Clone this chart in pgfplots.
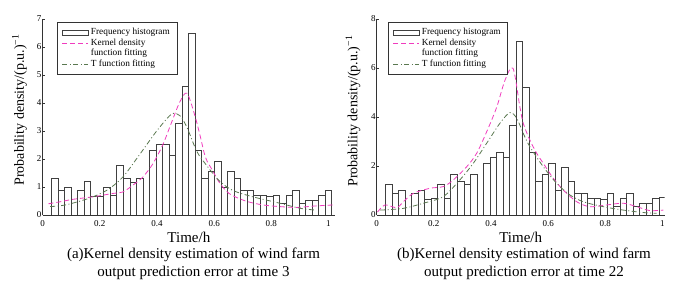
\documentclass[border=0pt]{standalone}
\usepackage{fontspec}
\setmainfont{Liberation Serif}
\usepackage{pgfplots}
\pgfplotsset{compat=1.18}
\definecolor{kdc}{RGB}{240,60,190}
\definecolor{tfc}{RGB}{90,120,80}
\pgfplotsset{
 mystyle/.style={
  scale only axis, height=196pt,
  axis x line*=bottom, axis y line*=left,
  axis line style={black!80, line width=0.6pt},
  xmin=0, ymin=0,
  xtick={0,0.2,0.4,0.6,0.8,1},
  xticklabels={0,0.2,0.4,0.6,0.8,1},
  tick style={black!80, line width=0.5pt},
  major tick length=2.5pt,
  tick align=inside,
  ticklabel style={font=\fontsize{9}{10}\selectfont},
  /pgf/number format/assume math mode=true,
  yticklabel style={inner sep=1pt},
  xticklabel style={yshift=-2pt},
  xlabel={Time/h},
  xlabel style={font=\fontsize{15}{18}\selectfont, at={(axis description cs:0.5,0)}, anchor=center, yshift=-22pt},
  ylabel={Probability density/(p.u.)\textsuperscript{−1}},
  ylabel style={font=\fontsize{14}{16}\selectfont, anchor=center},
  legend style={draw=black!80, line width=0.5pt, font=\fontsize{9.3}{10}\selectfont, anchor=north west, inner xsep=5pt, inner ysep=4.5pt, row sep=0pt, cells={anchor=west}, nodes={inner xsep=2pt, inner ysep=1pt, text height=6.5pt, text depth=2.2pt}},
 },
 hist/.style={ybar interval, draw=black!75, fill=white, line width=0.75pt},
 kd/.style={draw=kdc, line width=0.8pt, dash pattern=on 5pt off 3pt, smooth, tension=0.5, no marks},
 tf/.style={draw=tfc, line width=0.8pt, dash pattern=on 5pt off 2.5pt on 1pt off 2.5pt, smooth, tension=0.5, no marks},
 lhist/.style={legend image code/.code={\draw[draw=black!75, fill=white, line width=0.75pt] (0pt,-2.5pt) rectangle (26pt,2.5pt);}},
 lkd/.style={legend image code/.code={\draw[draw=kdc, line width=1pt, dash pattern=on 5pt off 3pt] (0pt,0pt) -- (26pt,0pt);}},
 ltf/.style={legend image code/.code={\draw[draw=tfc, line width=0.9pt, dash pattern=on 5pt off 2.5pt on 1pt off 2.5pt] (0pt,0pt) -- (26pt,0pt);}},
}
\begin{document}
\begin{tikzpicture}[x=1pt,y=1pt]
\useasboundingbox (0,0) rectangle (680,288);
\begin{axis}[mystyle, at={(42.7pt,73pt)}, anchor=south west, width=292.3pt, xmax=1.023, ymax=7,
  ytick={0,1,2,3,4,5,6,7}, yticklabels={0,1,2,3,4,5,6,7},
  ylabel style={at={(axis description cs:-0.079,0.536)}},
  legend style={at={(axis description cs:0.048,0.983)}}]
\addlegendimage{lhist}
\addlegendentry{Frequency histogram}
\addlegendimage{lkd}
\addlegendentry{Kernel density}
\addlegendimage{empty legend}
\addlegendentry{function fitting}
\addlegendimage{ltf}
\addlegendentry{T function fitting}
\addplot[hist, forget plot] coordinates {
(0.0315,1.30) (0.0543,0.88) (0.0771,0.99) (0.0999,0) (0.1227,0.88) (0.1455,1.19)
(0.1683,0.67) (0.1911,0.67) (0.2139,0.98) (0.2367,0.71) (0.2595,1.76) (0.2823,1.30)
(0.3051,1.17) (0.3279,1.30) (0.3507,0) (0.3735,2.32) (0.3963,2.51) (0.4191,2.51)
(0.4419,2.13) (0.4647,3.27) (0.4875,4.60) (0.5103,6.50) (0.5331,2.32) (0.5559,1.30)
(0.5787,1.55) (0.6015,1.93) (0.6243,1.00) (0.6471,1.55) (0.6699,1.30) (0.6927,0.88)
(0.7155,0.88) (0.7383,0.71) (0.7611,0.71) (0.7839,0.67) (0.8067,0.71) (0.8295,0.42)
(0.8523,0.71) (0.8751,0.88) (0.8979,0.42) (0.9207,0.53) (0.9435,0.53) (0.9663,0.71)
(0.9891,0.88) (1.0119,0)};
\addplot[kd, forget plot] coordinates {
(0.02,0.40) (0.06,0.47) (0.106,0.56) (0.176,0.65) (0.246,0.77) (0.28,0.82) (0.315,1.06)
(0.35,1.35) (0.385,1.82) (0.42,2.5) (0.45,3.28) (0.48,4.04) (0.505,4.35) (0.532,3.57)
(0.55,2.87) (0.57,2.05) (0.595,1.58) (0.617,1.18) (0.652,0.77) (0.71,0.5) (0.77,0.36)
(0.83,0.30) (0.89,0.27) (0.95,0.32) (1.02,0.36)};
\addplot[tf, forget plot] coordinates {
(0.026,0.30) (0.08,0.36) (0.16,0.59) (0.224,0.88) (0.28,1.35) (0.34,2.17) (0.398,2.99)
(0.44,3.5) (0.457,3.63) (0.48,3.55) (0.504,3.15) (0.539,2.28) (0.57,1.82) (0.617,1.23)
(0.665,0.88) (0.735,0.65) (0.83,0.42) (0.9,0.24) (0.95,0.18)};
\end{axis}
\begin{axis}[mystyle, at={(376.7pt,73pt)}, anchor=south west, width=288pt, xmax=1.008, ymax=8,
  ytick={0,2,4,6,8}, yticklabels={0,2,4,6,8},
  ylabel style={at={(axis description cs:-0.082,0.53)}},
  legend style={at={(axis description cs:0.038,0.983)}}]
\addlegendimage{lhist}
\addlegendentry{Frequency histogram}
\addlegendimage{lkd}
\addlegendentry{Kernel density}
\addlegendimage{empty legend}
\addlegendentry{function fitting}
\addlegendimage{ltf}
\addlegendentry{T function fitting}
\addplot[hist, forget plot] coordinates {
(0.0315,1.24) (0.0543,0.88) (0.0771,1.01) (0.0999,0) (0.1227,0.88) (0.1455,1.01)
(0.1683,0.64) (0.1911,0.68) (0.2139,1.24) (0.2367,0.68) (0.2595,1.66) (0.2823,1.37)
(0.3051,1.24) (0.3279,1.66) (0.3507,0) (0.3735,2.11) (0.3963,2.34) (0.4191,2.56)
(0.4419,2.34) (0.4647,3.66) (0.4875,7.07) (0.5103,5.21) (0.5331,2.56) (0.5559,1.37)
(0.5787,1.66) (0.6015,2.11) (0.6243,1.01) (0.6471,1.95) (0.6699,1.37) (0.6927,0.88)
(0.7155,0.88) (0.7383,0.68) (0.7611,0.68) (0.7839,0.64) (0.8067,0.88) (0.8295,0.34)
(0.8523,0.68) (0.8751,0.88) (0.8979,0.34) (0.9207,0.48) (0.9435,0.48) (0.9663,0.68)
(0.9891,0.72) (1.0119,0)};
\addplot[kd, forget plot] coordinates {
(0.003,0.12) (0.029,0.41) (0.07,0.30) (0.093,0.54) (0.128,0.88) (0.186,1.09) (0.233,1.16)
(0.268,1.43) (0.315,1.97) (0.35,2.52) (0.385,3.4) (0.42,4.4) (0.449,5.5) (0.477,5.99)
(0.501,4.42) (0.513,3.74) (0.536,3.06) (0.56,2.52) (0.583,2.11) (0.618,1.50) (0.653,1.02)
(0.70,0.54) (0.746,0.34) (0.805,0.41) (0.863,0.48) (0.91,0.34) (0.956,0.18) (1.003,0.20)};
\addplot[tf, forget plot] coordinates {
(0.012,0.2) (0.093,0.27) (0.163,0.48) (0.233,0.75) (0.291,1.43) (0.338,2.11) (0.385,2.93)
(0.431,3.74) (0.466,4.18) (0.49,3.95) (0.513,3.33) (0.536,2.79) (0.583,1.97) (0.63,1.29)
(0.676,0.82) (0.723,0.54) (0.793,0.34) (0.863,0.2) (0.933,0.1) (0.98,0.07)};
\end{axis}
\node[align=center, font=\fontsize{15}{18}\selectfont] at (193.5,24) {(a)Kernel density estimation of wind farm\\output prediction error at time 3};
\node[align=center, font=\fontsize{15}{18}\selectfont] at (524,24) {(b)Kernel density estimation of wind farm\\output prediction error at time 22};
\end{tikzpicture}
\end{document}
